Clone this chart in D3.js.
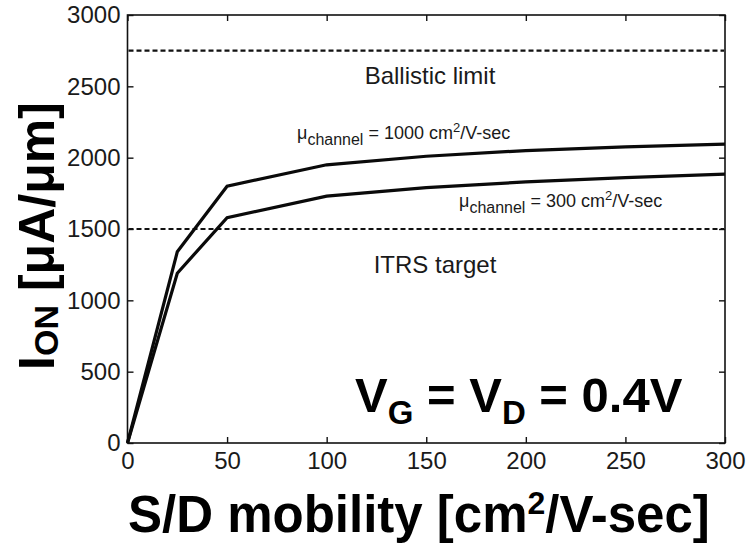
<!DOCTYPE html>
<html>
<head>
<meta charset="utf-8">
<script src="https://cdn.jsdelivr.net/npm/d3@7"></script>
<style>
  html, body { margin: 0; padding: 0; background: #fff; }
  svg { display: block; font-family: "Liberation Sans", Arial, Helvetica, sans-serif; }
</style>
</head>
<body>
<svg id="chart" width="750" height="546"></svg>
<script>
// S/D mobility (cm^2/V-sec) sample points
const mobility = [0, 25, 50, 100, 150, 200, 250, 300];
// On-current (uA/um) for two channel mobilities
const ionChannel1000 = [0, 1340, 1800, 1950, 2010, 2050, 2075, 2095];
const ionChannel300  = [0, 1190, 1580, 1730, 1790, 1830, 1860, 1885];
// Reference levels
const ballisticLimit = 2750;
const itrsTarget = 1500;
// Axis ticks
const xTicks = [0, 50, 100, 150, 200, 250, 300];
const yTicks = [0, 500, 1000, 1500, 2000, 2500, 3000];

const svg = d3.select("#chart");
const m = { left: 127.5, right: 725, top: 15, bottom: 443 };

const x = d3.scaleLinear().domain([0, 300]).range([m.left, m.right]);
const y = d3.scaleLinear().domain([0, 3000]).range([m.bottom, m.top]);

// Frame
svg.append("rect")
  .attr("x", m.left).attr("y", m.top)
  .attr("width", m.right - m.left).attr("height", m.bottom - m.top)
  .attr("fill", "none").attr("stroke", "#111").attr("stroke-width", 1.6);

// Axes with inward ticks (mirrored on top/right)
const tickLen = 6;
function styleAxis(g) {
  g.select(".domain").remove();
  g.selectAll(".tick line").attr("stroke", "#111").attr("stroke-width", 1.4);
  g.selectAll(".tick text").attr("fill", "#1a1a1a").style("font-size", "24px")
    .style("font-family", "'Liberation Sans', Arial, sans-serif");
}
svg.append("g").attr("transform", `translate(0,${m.bottom})`)
  .call(d3.axisBottom(x).tickValues(xTicks).tickSize(-tickLen).tickPadding(9).tickFormat(d3.format("d")))
  .call(styleAxis);
svg.append("g").attr("transform", `translate(0,${m.top})`)
  .call(d3.axisTop(x).tickValues(xTicks).tickSize(-tickLen).tickFormat(""))
  .call(styleAxis);
svg.append("g").attr("transform", `translate(${m.left},0)`)
  .call(d3.axisLeft(y).tickValues(yTicks).tickSize(-tickLen).tickPadding(7).tickFormat(d3.format("d")))
  .call(styleAxis);
svg.append("g").attr("transform", `translate(${m.right},0)`)
  .call(d3.axisRight(y).tickValues(yTicks).tickSize(-tickLen).tickFormat(""))
  .call(styleAxis);

// Dashed reference lines
[ballisticLimit, itrsTarget].forEach(v => {
  svg.append("line")
    .attr("x1", x(0) + 1).attr("x2", x(300) - 1)
    .attr("y1", y(v)).attr("y2", y(v))
    .attr("stroke", "#111").attr("stroke-width", 2.2)
    .attr("stroke-dasharray", "5,3");
});

// Current curves
const line = d3.line().x(d => x(d[0])).y(d => y(d[1]));
[ionChannel1000, ionChannel300].forEach(series => {
  svg.append("path")
    .datum(mobility.map((mu, i) => [mu, series[i]]))
    .attr("d", line)
    .attr("fill", "none").attr("stroke", "#0a0a0a").attr("stroke-width", 3.2)
    .attr("stroke-linejoin", "miter");
});

// Reference-line captions
svg.append("text").attr("x", 430).attr("y", 84).attr("text-anchor", "middle")
  .style("font-size", "24px").attr("fill", "#1a1a1a").text("Ballistic limit");
svg.append("text").attr("x", 435).attr("y", 273).attr("text-anchor", "middle")
  .style("font-size", "24px").attr("fill", "#1a1a1a").text("ITRS target");

// Channel mobility annotations
function muLabel(xPos, yPos, value) {
  const t = svg.append("text").attr("x", xPos).attr("y", yPos)
    .style("font-size", "18px").attr("fill", "#1a1a1a");
  t.append("tspan").text("\u03bc");
  t.append("tspan").attr("dy", 6).style("font-size", "16px").text("channel");
  t.append("tspan").attr("dy", -6).text(` = ${value} cm`);
  t.append("tspan").attr("dy", -7).style("font-size", "13px").text("2");
  t.append("tspan").attr("dy", 7).text("/V-sec");
}
muLabel(297, 139, 1000);
muLabel(459, 207, 300);

// Bias condition
const vb = svg.append("text").attr("x", 355).attr("y", 412)
  .style("font-size", "49px").style("font-weight", "bold").attr("fill", "#000");
vb.append("tspan").text("V");
vb.append("tspan").attr("dy", 12).style("font-size", "33px").text("G");
vb.append("tspan").attr("dy", -12).text(" = V");
vb.append("tspan").attr("dy", 12).style("font-size", "33px").text("D");
vb.append("tspan").attr("dy", -12).text(" = 0.4V");

// Axis titles
svg.append("text").attr("x", 128).attr("y", 532)
  .style("font-size", "51px").style("font-weight", "bold").attr("fill", "#000")
  .call(t => {
    t.append("tspan").text("S/D mobility [cm");
    t.append("tspan").attr("dy", -18).style("font-size", "32px").text("2");
    t.append("tspan").attr("dy", 18).text("/V-sec]");
  });

const yl = svg.append("text")
  .attr("transform", "translate(54,236) rotate(-90)")
  .attr("text-anchor", "middle")
  .style("font-size", "50px").style("font-weight", "bold").attr("fill", "#000");
yl.append("tspan").text("I");
yl.append("tspan").attr("dy", 4).style("font-size", "34px").text("ON");
yl.append("tspan").attr("dy", -4).text(" [\u03bcA/\u03bcm]");
</script>
</body>
</html>
